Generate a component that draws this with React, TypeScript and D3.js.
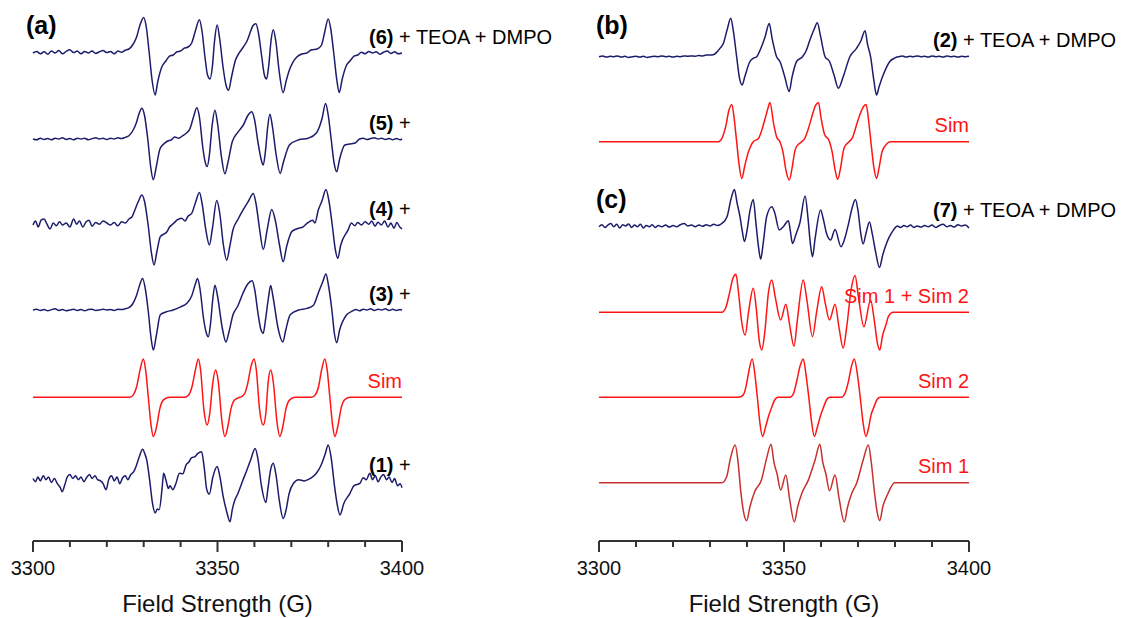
import React from "react";
import * as d3 from "d3";

type Pt = [number, number];

// field axis
const fieldDomain: [number, number] = [3300, 3400];
const majorTicks = [3300, 3350, 3400];
const axisTitle = "Field Strength (G)";
const panelLetters = ["(a)", "(b)", "(c)"];

// spectra: [field (G), relative intensity]
const trace6: Pt[] = [
  [3300, 0.0], [3301, 0.04], [3302, -0.02], [3303, 0.03], [3304, -0.03], [3305, 0.05], [3306, 0.0], [3307, 0.06],
  [3308, -0.02], [3309, 0.04], [3310, 0.08], [3311, 0.01], [3312, 0.05], [3313, -0.02], [3314, 0.04], [3315, 0.0],
  [3316, 0.05], [3317, -0.01], [3318, 0.03], [3319, 0.06], [3320, 0.01], [3321, 0.04], [3322, -0.02], [3323, 0.05],
  [3324, 0.02], [3325, 0.07], [3326, 0.1], [3327, 0.2], [3328, 0.38], [3329, 0.7], [3330, 0.89], [3330.7, 0.65],
  [3331.5, 0.0], [3332.3, -0.7], [3333.1, -1.05], [3333.8, -0.72], [3334.9, -0.35], [3336, -0.2], [3337, -0.08],
  [3338, -0.05], [3339, 0.03], [3340, 0.05], [3341, 0.12], [3342, 0.15], [3343, 0.25], [3344, 0.55], [3345.1, 0.83],
  [3345.8, 0.55], [3346.6, -0.1], [3347.3, -0.55], [3348, -0.65], [3348.6, -0.35], [3349.2, 0.3], [3349.9, 0.7],
  [3350.6, 0.35], [3351.5, -0.35], [3352.3, -0.8], [3353, -0.93], [3353.8, -0.6], [3354.8, -0.2], [3356, 0.02],
  [3357, 0.15], [3358, 0.3], [3359, 0.55], [3359.6, 0.68], [3360.4, 0.73], [3361.1, 0.5], [3362, -0.1],
  [3362.7, -0.55], [3363.3, -0.65], [3363.9, -0.3], [3364.5, 0.3], [3365.1, 0.58], [3365.8, 0.3], [3366.7, -0.45],
  [3367.8, -0.99], [3368.6, -0.7], [3369.5, -0.42], [3370.5, -0.22], [3371.5, -0.1], [3373, -0.02], [3374.2, 0.0],
  [3375.5, 0.08], [3377, 0.1], [3378.2, 0.2], [3379, 0.5], [3380, 0.85], [3380.7, 0.6], [3381.5, 0.0],
  [3382.3, -0.65], [3383, -0.99], [3383.8, -0.65], [3385, -0.3], [3385.9, -0.2], [3387, -0.08], [3388, -0.05],
  [3389, 0.02], [3390, -0.02], [3391, 0.04], [3392, 0.0], [3393, 0.03], [3394, -0.03], [3395, 0.02], [3396, 0.05],
  [3397, -0.01], [3398, 0.03], [3399, -0.02], [3400, 0.0],
];

const trace5: Pt[] = [
  [3300, 0.0], [3301, -0.02], [3302, 0.02], [3303, -0.01], [3304, 0.01], [3305, -0.02], [3306, 0.02], [3307, 0.0],
  [3308, 0.03], [3309, -0.01], [3310, 0.01], [3311, -0.02], [3312, 0.02], [3313, 0.0], [3314, 0.02], [3315, -0.02],
  [3316, 0.01], [3317, 0.03], [3318, 0.0], [3319, 0.02], [3320, -0.01], [3321, 0.02], [3322, 0.0], [3323, 0.03],
  [3324, 0.01], [3325, 0.04], [3326, 0.08], [3327, 0.2], [3328, 0.4], [3328.8, 0.65], [3329.5, 0.77], [3330.2, 0.6],
  [3331.1, 0.0], [3331.9, -0.7], [3332.6, -1.02], [3333.4, -0.7], [3334.4, -0.25], [3335.5, -0.12], [3336.5, -0.05],
  [3337.5, -0.02], [3338.4, 0.05], [3339.5, 0.02], [3340.5, 0.08], [3341.6, 0.15], [3342.5, 0.25], [3343.5, 0.55],
  [3344.4, 0.78], [3345.1, 0.55], [3346, -0.2], [3346.6, -0.55], [3347.2, -0.69], [3347.8, -0.4], [3348.5, 0.3],
  [3349.3, 0.72], [3350, 0.4], [3351, -0.4], [3352, -0.87], [3352.8, -0.6], [3354, -0.07], [3355.6, 0.18],
  [3357, 0.35], [3358.3, 0.6], [3359.3, 0.68], [3360, 0.5], [3361, -0.1], [3361.8, -0.5], [3362.4, -0.65],
  [3363, -0.3], [3363.6, 0.3], [3364.2, 0.62], [3364.9, 0.3], [3365.9, -0.4], [3367, -0.86], [3367.8, -0.6],
  [3369.5, -0.15], [3372, -0.02], [3374.6, 0.02], [3376.8, 0.15], [3378.3, 0.5], [3379.3, 0.89], [3380, 0.6],
  [3380.8, 0.0], [3381.6, -0.6], [3382.3, -0.82], [3383.1, -0.5], [3384.5, -0.15], [3387.3, -0.1], [3388.5, 0.0],
  [3389.5, 0.02], [3390.5, -0.01], [3391.5, 0.01], [3392.5, 0.03], [3393.5, 0.0], [3394.5, 0.02], [3395.5, -0.01],
  [3396.5, 0.01], [3397.5, -0.02], [3398.5, 0.01], [3399.5, -0.02], [3400, 0.0],
];

const trace4: Pt[] = [
  [3300, 0.0], [3300.7, 0.1], [3301.4, -0.05], [3302.2, 0.12], [3303, 0.15], [3303.8, 0.02], [3304.6, -0.1],
  [3305.5, 0.05], [3306.3, -0.02], [3307.2, 0.08], [3308, 0.0], [3309, 0.05], [3310, -0.05], [3311, 0.15],
  [3311.8, 0.02], [3312.6, 0.1], [3313.5, -0.05], [3314.4, 0.08], [3315.2, 0.12], [3316, -0.03], [3317, 0.06],
  [3318, 0.02], [3319, 0.1], [3320, 0.05], [3321, 0.0], [3322, 0.06], [3323, -0.02], [3324, 0.08], [3325, 0.05],
  [3326, 0.15], [3326.8, 0.2], [3327.8, 0.42], [3328.6, 0.6], [3329.5, 0.75], [3330.2, 0.6], [3331.2, 0.0],
  [3332.1, -0.7], [3332.8, -1.0], [3333.6, -0.65], [3334.5, -0.29], [3336.3, -0.17], [3337, -0.05], [3338.1, 0.04],
  [3339, 0.12], [3340.3, 0.17], [3341.2, 0.1], [3342, 0.22], [3343, 0.29], [3344, 0.55], [3345.1, 0.81],
  [3345.8, 0.55], [3346.8, -0.1], [3347.8, -0.5], [3348.6, -0.1], [3349.8, 0.61], [3350.6, 0.3], [3351.6, -0.5],
  [3352.5, -0.88], [3353.3, -0.55], [3354.2, -0.12], [3355.6, 0.15], [3356.9, 0.37], [3358.4, 0.6], [3359.7, 0.79],
  [3360.5, 0.5], [3361.4, -0.1], [3362.4, -0.61], [3363.5, -0.1], [3364.7, 0.39], [3365.7, 0.1], [3366.8, -0.5],
  [3367.8, -0.92], [3368.7, -0.55], [3370.1, -0.17], [3371.4, -0.1], [3373.3, -0.04], [3374.5, 0.06], [3375.8, 0.12],
  [3376.4, 0.05], [3377.3, 0.37], [3378.3, 0.6], [3379.4, 0.89], [3380.2, 0.6], [3381.1, 0.0], [3381.9, -0.6],
  [3382.6, -0.83], [3383.4, -0.5], [3385.4, -0.12], [3386.3, 0.05], [3387.2, -0.02], [3388, 0.06], [3389, 0.0],
  [3390, 0.08], [3391, 0.02], [3391.8, 0.1], [3392.7, -0.03], [3393.5, 0.07], [3394.4, 0.0], [3395.3, 0.1],
  [3396.2, -0.05], [3397, 0.05], [3397.8, -0.08], [3398.6, 0.06], [3399.4, -0.05], [3400, -0.1],
];

const trace3: Pt[] = [
  [3300, 0.0], [3301, 0.02], [3302, -0.01], [3303, 0.01], [3304, -0.02], [3305, 0.01], [3306, 0.03], [3307, -0.01],
  [3308, 0.01], [3309, -0.02], [3310, 0.0], [3311, 0.02], [3312, -0.01], [3313, 0.01], [3314, -0.02], [3315, 0.01],
  [3316, 0.02], [3317, -0.01], [3318, 0.0], [3319, 0.02], [3320, 0.0], [3321, 0.01], [3322, -0.01], [3323, 0.02],
  [3324, 0.01], [3325, 0.03], [3326, 0.06], [3327, 0.15], [3328, 0.35], [3329, 0.65], [3329.7, 0.79], [3330.4, 0.55],
  [3331.2, 0.0], [3332, -0.7], [3332.6, -1.0], [3333.4, -0.65], [3334.5, -0.12], [3336, -0.05], [3338, 0.0],
  [3340, 0.08], [3341.7, 0.17], [3343, 0.35], [3344, 0.65], [3344.6, 0.79], [3345.3, 0.5], [3346.2, -0.2],
  [3346.9, -0.55], [3347.5, -0.67], [3348.1, -0.35], [3348.7, 0.25], [3349.3, 0.62], [3350, 0.35], [3351.2, -0.4],
  [3352.3, -0.8], [3353.1, -0.55], [3354.2, -0.12], [3355.5, 0.1], [3356.9, 0.42], [3358.2, 0.65], [3359.4, 0.73],
  [3360.1, 0.5], [3361, -0.1], [3361.8, -0.5], [3362.4, -0.58], [3363, -0.25], [3363.8, 0.3], [3364.4, 0.61],
  [3365.1, 0.3], [3366.4, -0.45], [3367.7, -0.8], [3368.5, -0.5], [3369.7, -0.12], [3372, 0.0], [3374.2, 0.04],
  [3376, 0.12], [3377.3, 0.42], [3378.5, 0.7], [3379.4, 0.9], [3380.1, 0.6], [3381, 0.0], [3381.7, -0.6],
  [3382.3, -0.82], [3383.1, -0.5], [3385, -0.12], [3386.5, -0.03], [3387.5, 0.01], [3388.5, -0.02], [3389.5, 0.02],
  [3390.5, 0.0], [3391.5, 0.03], [3392.5, -0.01], [3393.5, 0.02], [3394.5, 0.0], [3395.5, 0.03], [3396.5, -0.01],
  [3397.5, 0.02], [3398.5, -0.01], [3399.5, 0.01], [3400, -0.01],
];

const simA: Pt[] = [
  [3300, 0], [3326.3, 0], [3327.2, 0.06], [3328.1, 0.27], [3329, 0.68], [3329.9, 0.96], [3330.5, 0.7], [3331.25, 0],
  [3332, -0.7], [3332.6, -0.98], [3333.5, -0.73], [3334.4, -0.27], [3335.3, -0.07], [3336.9, 0], [3341, 0],
  [3342.2, 0.06], [3343.1, 0.27], [3344, 0.68], [3344.8, 0.96], [3345.4, 0.7], [3346.3, -0.3], [3347.2, -0.69],
  [3347.9, -0.4], [3348.7, 0.35], [3349.5, 0.68], [3350.2, 0.4], [3351.2, -0.6], [3352, -0.98], [3352.8, -0.73],
  [3353.7, -0.27], [3354.6, -0.07], [3356, 0], [3356.6, 0.02], [3357.4, 0.1], [3358.2, 0.35], [3359.1, 0.78],
  [3359.9, 0.96], [3360.5, 0.7], [3361.4, -0.3], [3362.4, -0.69], [3363.1, -0.4], [3363.7, 0.35], [3364.4, 0.68],
  [3365.1, 0.4], [3366.1, -0.6], [3366.9, -0.98], [3367.7, -0.73], [3368.6, -0.27], [3369.5, -0.07], [3371, 0],
  [3375.5, 0], [3376.5, 0.06], [3377.4, 0.27], [3378.2, 0.68], [3379.1, 0.96], [3379.7, 0.7], [3380.45, 0],
  [3381.2, -0.7], [3381.8, -0.98], [3382.6, -0.73], [3383.5, -0.27], [3384.4, -0.07], [3385.8, 0], [3400, 0],
];

const trace1: Pt[] = [
  [3300, 0.08], [3300.7, 0.0], [3301.3, 0.12], [3302, 0.02], [3302.8, 0.15], [3303.5, 0.05], [3304.2, 0.12],
  [3305, -0.02], [3305.8, 0.08], [3306.6, -0.05], [3307.4, -0.15], [3307.9, -0.25], [3308.6, -0.08], [3309.3, 0.12],
  [3310, 0.18], [3310.8, 0.08], [3311.5, 0.15], [3312.3, 0.05], [3313, 0.12], [3313.8, 0.0], [3314.5, 0.1],
  [3315.3, 0.18], [3316, 0.08], [3316.8, 0.15], [3317.5, 0.05], [3318.3, 0.02], [3319, -0.05], [3319.8, -0.2],
  [3320.5, 0.05], [3321.3, 0.15], [3322, 0.02], [3322.8, 0.12], [3323.5, -0.05], [3324.3, 0.1], [3325, 0.15],
  [3325.7, 0.05], [3326.5, 0.18], [3327.3, 0.25], [3328, 0.4], [3328.9, 0.65], [3329.7, 0.81], [3330.3, 0.7],
  [3330.8, 0.55], [3331.6, 0.05], [3332.4, -0.55], [3333.1, -0.78], [3333.7, -0.68], [3334.2, -0.7], [3335, -0.15],
  [3335.4, 0.21], [3336, 0.05], [3336.7, -0.17], [3337.1, -0.1], [3337.9, -0.2], [3338.7, -0.05], [3339.7, 0.21],
  [3340.6, 0.2], [3341.5, 0.42], [3342.3, 0.5], [3343, 0.6], [3343.8, 0.62], [3344.6, 0.7], [3345.7, 0.75],
  [3346.4, 0.35], [3347.1, -0.2], [3347.8, -0.31], [3348.7, 0.1], [3349.9, 0.38], [3350.6, 0.15], [3351.6, -0.4],
  [3352.5, -0.75], [3353.4, -1.0], [3354, -0.7], [3354.7, -0.46], [3355.5, -0.3], [3356.9, 0.04], [3358, 0.3],
  [3359, 0.55], [3360.2, 0.83], [3360.9, 0.6], [3361.9, -0.1], [3363.1, -0.52], [3363.7, -0.15], [3364.4, 0.3],
  [3365.1, 0.46], [3365.8, 0.2], [3366.8, -0.5], [3367.8, -0.92], [3368.6, -0.7], [3369.4, -0.3], [3370.6, -0.04],
  [3372, 0.05], [3373.5, 0.02], [3374.2, 0.04], [3375.5, 0.1], [3376.8, 0.21], [3378, 0.4], [3379.2, 0.7],
  [3380, 0.92], [3380.8, 0.6], [3381.7, -0.1], [3382.5, -0.6], [3383.2, -0.83], [3384.2, -0.55], [3385.9, -0.29],
  [3387, -0.1], [3388.6, -0.04], [3389.5, 0.1], [3390.3, 0.05], [3391.3, 0.21], [3392, 0.05], [3392.8, 0.15],
  [3393.5, 0.0], [3394.3, 0.12], [3395, 0.18], [3395.8, 0.05], [3396.5, 0.12], [3397.3, -0.02], [3398, 0.08],
  [3398.8, -0.1], [3399.5, -0.05], [3400, -0.15],
];

const trace2: Pt[] = [
  [3300, 0.0], [3301, 0.02], [3302, -0.01], [3303, 0.01], [3304, 0.0], [3305, 0.02], [3306, -0.01], [3307, 0.01],
  [3308, -0.02], [3309, 0.0], [3310, 0.01], [3311, -0.01], [3312, 0.01], [3313, -0.02], [3314, 0.0], [3315, 0.01],
  [3316, 0.0], [3317, 0.02], [3318, 0.0], [3319, 0.01], [3320, -0.01], [3321, 0.01], [3322, 0.0], [3323, 0.02],
  [3324, 0.01], [3325, 0.02], [3326, 0.01], [3327, 0.03], [3328, 0.02], [3329, 0.04], [3330, 0.04], [3330.9, 0.05],
  [3331.9, 0.12], [3332.8, 0.22], [3333.6, 0.33], [3334.7, 0.7], [3335.6, 0.96], [3336.3, 0.65], [3337.2, 0.0],
  [3338, -0.55], [3338.7, -0.71], [3339.4, -0.5], [3340.8, -0.12], [3341.7, -0.04], [3342.6, 0.0], [3343.7, 0.2],
  [3344.9, 0.5], [3346, 0.83], [3346.8, 0.45], [3348, 0.0], [3348.9, -0.12], [3350.2, -0.5], [3351.4, -0.87],
  [3352.2, -0.5], [3353.4, -0.12], [3355, 0.0], [3356, 0.15], [3357, 0.42], [3358.2, 0.7], [3359, 0.85],
  [3359.9, 0.5], [3361.1, 0.0], [3362.3, -0.12], [3363.5, -0.45], [3364.7, -0.79], [3366, -0.5], [3367.8, 0.0],
  [3369.6, 0.21], [3370.8, 0.4], [3371.9, 0.65], [3372.6, 0.3], [3373.4, 0.0], [3374.3, -0.6], [3375, -0.96],
  [3375.7, -0.75], [3376.8, -0.46], [3378.6, -0.12], [3380, -0.03], [3381, 0.0], [3382, 0.02], [3383, -0.01],
  [3384, 0.01], [3385, 0.0], [3386, 0.02], [3387, 0.0], [3388, 0.01], [3389, -0.01], [3390, 0.02], [3391, 0.0],
  [3392, 0.01], [3393, -0.01], [3394, 0.02], [3395, 0.0], [3396, 0.01], [3397, -0.01], [3398, 0.01], [3399, 0.0],
  [3400, 0.01],
];

const simB: Pt[] = [
  [3300, 0], [3332.3, 0], [3333.3, 0.1], [3334.3, 0.4], [3335.1, 0.78], [3335.9, 0.93], [3336.5, 0.6], [3337.2, 0],
  [3337.9, -0.6], [3338.6, -0.92], [3339.4, -0.6], [3340.4, -0.25], [3341.7, 0.0], [3343.1, 0.08], [3344.9, 0.58],
  [3345.7, 0.85], [3346.2, 0.98], [3347.2, 0.45], [3348, 0.12], [3348.9, 0.0], [3349.7, -0.25], [3350.6, -0.75],
  [3351.4, -0.96], [3352.2, -0.65], [3352.9, -0.25], [3353.4, -0.12], [3354.8, 0.0], [3355.6, 0.08], [3356.6, 0.33],
  [3357.6, 0.65], [3358.5, 0.9], [3359.3, 0.98], [3360, 0.6], [3360.9, 0.2], [3362.3, 0.0], [3363, -0.25],
  [3363.8, -0.7], [3364.5, -0.94], [3365.3, -0.65], [3366, -0.25], [3366.4, -0.12], [3367.6, 0.0], [3368.5, 0.1],
  [3369.6, 0.42], [3370.6, 0.7], [3371.5, 0.88], [3372.2, 0.93], [3372.9, 0.5], [3373.6, -0.1], [3374.3, -0.65],
  [3375, -0.92], [3375.7, -0.65], [3376.5, -0.25], [3377.2, -0.12], [3378.9, 0], [3400, 0],
];

const trace7: Pt[] = [
  [3300, 0.0], [3300.8, 0.05], [3301.6, -0.02], [3302.4, 0.04], [3303.2, 0.08], [3304, 0.0], [3304.8, 0.06],
  [3305.6, -0.03], [3306.4, 0.05], [3307.2, 0.02], [3308, 0.07], [3308.8, -0.02], [3309.6, 0.04], [3310.4, 0.0],
  [3311.2, 0.06], [3312, -0.03], [3312.8, 0.03], [3313.6, 0.0], [3314.4, 0.05], [3315.2, -0.02], [3316, 0.03],
  [3317, 0.0], [3318, 0.04], [3319, -0.01], [3320, 0.03], [3321, 0.0], [3322, 0.05], [3323, 0.08], [3324, 0.02],
  [3325, 0.04], [3326, 0.0], [3327, 0.04], [3328, 0.01], [3329, 0.05], [3330, 0.02], [3331, 0.06], [3332, 0.03],
  [3333.2, 0.08], [3334.6, 0.25], [3335.7, 0.7], [3336.6, 0.93], [3337.3, 0.6], [3338.1, 0.25], [3338.7, -0.1],
  [3339.3, -0.37], [3340, -0.1], [3340.8, 0.4], [3341.7, 0.68], [3342.4, 0.1], [3343.1, -0.5], [3343.7, -0.81],
  [3344.4, -0.4], [3345.3, 0.25], [3346.7, 0.5], [3347.5, 0.35], [3348.7, -0.08], [3349.8, 0.0], [3351.2, 0.15],
  [3351.7, -0.1], [3352.3, -0.42], [3353.2, -0.2], [3354.3, 0.1], [3355.7, 0.77], [3356.5, 0.2], [3357.1, -0.4],
  [3357.7, -0.75], [3358.4, -0.3], [3359.9, 0.42], [3360.6, 0.2], [3361.5, -0.17], [3362.6, -0.33], [3363.8, -0.07],
  [3365.4, -0.5], [3366.5, -0.27], [3367.5, 0.1], [3368.5, 0.5], [3369.3, 0.68], [3370, 0.4], [3370.8, -0.2],
  [3371.4, -0.43], [3372.2, -0.15], [3373.1, 0.12], [3373.9, -0.2], [3374.8, -0.65], [3375.8, -1.02], [3376.7, -0.7],
  [3377.7, -0.42], [3378.5, -0.25], [3379.6, -0.08], [3380.6, 0.02], [3381.5, -0.02], [3382.4, 0.03], [3383.3, 0.0],
  [3384.2, 0.04], [3385.1, -0.02], [3386, 0.02], [3387, -0.01], [3388, 0.03], [3389, 0.0], [3390, 0.04],
  [3391, -0.02], [3392, 0.03], [3393, 0.06], [3394, 0.0], [3395, 0.03], [3396, -0.01], [3397, 0.05], [3398, 0.02],
  [3399, 0.04], [3400, -0.03],
];

const simSum: Pt[] = [
  [3300, 0], [3333.2, 0], [3334.2, 0.1], [3335.2, 0.45], [3336.2, 0.85], [3337, 0.95], [3337.7, 0.5], [3338.5, -0.2],
  [3339.5, -0.57], [3340.4, 0.0], [3341.7, 0.6], [3342.5, 0.1], [3343.3, -0.7], [3344, -0.94], [3344.8, -0.5],
  [3345.8, 0.5], [3346.7, 0.81], [3347.6, 0.4], [3349.1, -0.19], [3350.5, 0.2], [3351.5, -0.3], [3352.7, -0.85],
  [3353.6, -0.2], [3355.2, 0.81], [3356.2, 0.3], [3357.7, -0.61], [3358.8, 0.0], [3360.2, 0.64], [3361.1, 0.25],
  [3362.3, -0.19], [3363.8, 0.2], [3364.9, -0.4], [3366, -0.9], [3366.9, -0.4], [3368.2, 0.6], [3369.2, 0.92],
  [3370.1, 0.4], [3371.6, -0.36], [3373.4, 0.31], [3374.4, -0.2], [3375.2, -0.75], [3375.9, -0.94], [3376.6, -0.6],
  [3377.6, -0.3], [3378.2, -0.11], [3379.5, 0], [3400, 0],
];

const sim2: Pt[] = [
  [3300, 0], [3337.7, 0], [3339, 0.06], [3339.8, 0.3], [3340.4, 0.6], [3341.4, 0.96], [3342.1, 0.6], [3342.8, 0],
  [3343.5, -0.65], [3344.2, -0.98], [3345, -0.75], [3345.9, -0.45], [3346.6, -0.27], [3347.6, -0.05], [3348.4, 0],
  [3351.6, 0], [3352.6, 0.1], [3353.4, 0.39], [3354.4, 0.8], [3355.2, 0.96], [3355.9, 0.6], [3356.7, 0],
  [3357.5, -0.65], [3358.2, -0.98], [3359, -0.75], [3359.9, -0.45], [3360.6, -0.27], [3361.6, -0.05], [3362.4, 0],
  [3365.5, 0], [3366.5, 0.1], [3367.4, 0.39], [3368.3, 0.8], [3369, 0.96], [3369.8, 0.6], [3370.6, 0],
  [3371.4, -0.65], [3372.1, -0.98], [3372.9, -0.75], [3373.5, -0.45], [3374.2, -0.27], [3375.2, -0.05], [3376, 0],
  [3400, 0],
];

const sim1: Pt[] = [
  [3300, 0], [3333.2, 0], [3334.5, 0.15], [3335.5, 0.6], [3336.8, 0.94], [3337.6, 0.5], [3338.3, -0.2],
  [3339.1, -0.75], [3339.9, -0.95], [3340.8, -0.6], [3342.1, -0.22], [3343.9, 0.07], [3345.2, 0.57], [3346.5, 0.96],
  [3347.3, 0.5], [3348.1, 0.23], [3349.1, -0.18], [3350.5, 0.19], [3351.5, -0.4], [3352.8, -0.98], [3353.7, -0.6],
  [3354.8, -0.27], [3356.6, 0.07], [3358.4, 0.57], [3359.7, 0.96], [3360.5, 0.5], [3361.3, 0.23], [3362.3, -0.2],
  [3363.8, 0.19], [3364.9, -0.4], [3366.3, -0.98], [3367.2, -0.6], [3368.3, -0.27], [3369.6, -0.02], [3371.4, 0.57],
  [3372.8, 0.94], [3373.6, 0.5], [3374.4, -0.2], [3375.2, -0.75], [3375.9, -0.95], [3376.7, -0.6], [3378.1, -0.27],
  [3379.9, 0], [3400, 0],
];

// labels
const panelALabels = [
  { bold: "(6)", rest: " + TEOA + DMPO" },
  { bold: "(5)", rest: " +" },
  { bold: "(4)", rest: " +" },
  { bold: "(3)", rest: " +" },
  { sim: "Sim" },
  { bold: "(1)", rest: " +" },
];
const panelBLabels = [
  { bold: "(2)", rest: " + TEOA + DMPO" },
  { sim: "Sim" },
  { bold: "(7)", rest: " + TEOA + DMPO" },
  { sim: "Sim 1 + Sim 2" },
  { sim: "Sim 2" },
  { sim: "Sim 1" },
];
const panelAData = [trace6, trace5, trace4, trace3, simA, trace1];
const panelBData = [trace2, simB, trace7, simSum, sim2, sim1];

const NAVY = "#1c1c6c";
const RED = "#ff1414";
const FONT = "'Liberation Sans', Arial, sans-serif";

type Label = { bold?: string; rest?: string; sim?: string };

const Panel = ({
  left, right, baselines, data, labels, expLabelX, simColors,
}: {
  left: number; right: number; baselines: number[]; data: Pt[][]; labels: Label[];
  expLabelX: number; simColors: (string | null)[];
}) => {
  const x = d3.scaleLinear().domain(fieldDomain).range([left, right]);
  const axisY = 541;
  const minor = x.ticks(10);
  return (
    <g>
      {data.map((d, i) => {
        const base = baselines[i];
        const y = d3.scaleLinear().domain([-1, 1]).range([base + 40, base - 40]);
        const line = d3.line<Pt>().x((p) => x(p[0])).y((p) => y(p[1])).curve(d3.curveMonotoneX);
        const lab = labels[i];
        const color = simColors[i] ?? NAVY;
        return (
          <g key={i}>
            <path d={line(d) ?? ""} fill="none" stroke={color} strokeWidth={1.5} strokeLinejoin="round" />
            {lab.sim ? (
              <text x={right} y={base - 9.5} textAnchor="end" fill={RED} fontSize={20} fontFamily={FONT}>
                {lab.sim}
              </text>
            ) : (
              <text x={expLabelX} y={base - 9.5} fill="#000" fontSize={20} fontFamily={FONT}>
                <tspan fontWeight="bold">{lab.bold}</tspan>
                <tspan>{lab.rest}</tspan>
              </text>
            )}
          </g>
        );
      })}
      <line x1={x(fieldDomain[0])} x2={x(fieldDomain[1])} y1={axisY} y2={axisY} stroke="#333" strokeWidth={2} />
      {minor.map((t) => (
        <line key={t} x1={x(t)} x2={x(t)} y1={axisY} y2={axisY + (majorTicks.includes(t) ? 11 : 6)}
          stroke="#333" strokeWidth={2} />
      ))}
      {majorTicks.map((t) => (
        <text key={t} x={x(t)} y={575} textAnchor="middle" fontSize={20} fontFamily={FONT} fill="#111">
          {t}
        </text>
      ))}
      <text x={(x(fieldDomain[0]) + x(fieldDomain[1])) / 2} y={612} textAnchor="middle" fontSize={24}
        fontFamily={FONT} fill="#111">
        {axisTitle}
      </text>
    </g>
  );
};

export default function App() {
  return (
    <svg width={1130} height={618} style={{ position: "absolute", left: 0, top: 0, background: "#fff" }}>
      <rect width={1130} height={618} fill="#fff" />
      <Panel left={33} right={402} baselines={[53, 139, 225, 310, 397.3, 481.7]} data={panelAData}
        labels={panelALabels} expLabelX={369} simColors={[null, null, null, null, RED, null]} />
      <Panel left={599} right={969} baselines={[56.7, 141.7, 226.7, 312.3, 397.3, 482.7]} data={panelBData}
        labels={panelBLabels} expLabelX={933} simColors={[null, RED, null, RED, RED, "#c8302e"]} />
      <text x={26} y={34} fontSize={25} fontWeight="bold" fontFamily={FONT}>{panelLetters[0]}</text>
      <text x={596} y={34} fontSize={25} fontWeight="bold" fontFamily={FONT}>{panelLetters[1]}</text>
      <text x={596} y={208} fontSize={25} fontWeight="bold" fontFamily={FONT}>{panelLetters[2]}</text>
    </svg>
  );
}
